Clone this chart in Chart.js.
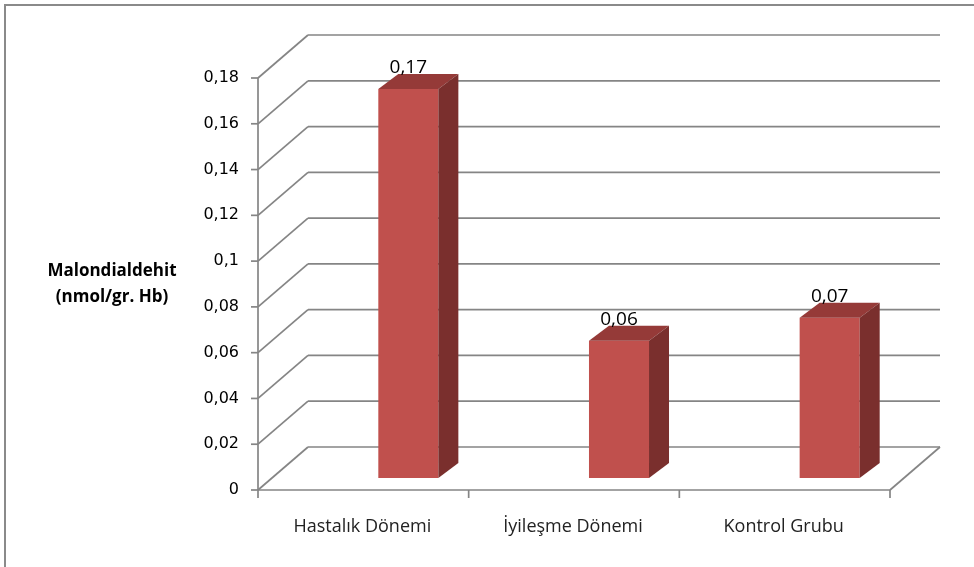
<!DOCTYPE html>
<html>
<head>
<meta charset="utf-8">
<script src="https://cdn.jsdelivr.net/npm/chart.js@4/dist/chart.umd.min.js"></script>
<style>
  html, body { margin: 0; padding: 0; background: #fff; }
  canvas { display: block; }
</style>
</head>
<body>
<canvas id="mdaChart" width="974" height="567"></canvas>
<script>
"use strict";

/**************************************************************
 * Data
 **************************************************************/
const categories = ["Hastalık Dönemi", "İyileşme Dönemi", "Kontrol Grubu"];
const mdaValues = [0.17, 0.06, 0.07];
const mdaLabels = ["0,17", "0,06", "0,07"];
const yTickValues = [0, 0.02, 0.04, 0.06, 0.08, 0.1, 0.12, 0.14, 0.16, 0.18];
const yTickLabels = ["0", "0,02", "0,04", "0,06", "0,08", "0,1", "0,12", "0,14", "0,16", "0,18"];
const yTitle = ["Malondialdehit", "(nmol/gr. Hb)"];

/**************************************************************
 * 3D look (Excel style column chart)
 **************************************************************/
const WALL_DX = 50, WALL_DY = -43;   // back wall depth
const BAR_SHIFT_X = 45, BAR_SHIFT_Y = -12; // bars sit inside the box
const BAR_DX = 20, BAR_DY = -15;     // bar depth
const GRID = "#858585";

function line(ctx, x1, y1, x2, y2) {
  ctx.beginPath();
  ctx.moveTo(x1, y1);
  ctx.lineTo(x2, y2);
  ctx.stroke();
}

function poly(ctx, pts, color) {
  ctx.beginPath();
  ctx.moveTo(pts[0][0], pts[0][1]);
  for (let i = 1; i < pts.length; i++) ctx.lineTo(pts[i][0], pts[i][1]);
  ctx.closePath();
  ctx.fillStyle = color;
  ctx.fill();
}

const box3d = {
  id: "box3d",

  beforeDraw(chart) {
    const ctx = chart.ctx;
    const xs = chart.scales.x;
    const ys = chart.scales.y;
    const left = chart.chartArea.left;
    const right = chart.chartArea.right;

    ctx.save();
    ctx.fillStyle = "#fff";
    ctx.fillRect(0, 0, chart.width, chart.height);

    // outer frame
    ctx.strokeStyle = "#8a8a8a";
    ctx.lineWidth = 2;
    ctx.beginPath();
    ctx.moveTo(5, chart.height);
    ctx.lineTo(5, 5);
    ctx.lineTo(chart.width, 5);
    ctx.stroke();

    // walls and gridlines
    ctx.strokeStyle = GRID;
    ctx.lineWidth = 1.7;
    yTickValues.forEach((v) => {
      const y = ys.getPixelForValue(v);
      line(ctx, left, y, left + WALL_DX, y + WALL_DY);
      line(ctx, left + WALL_DX, y + WALL_DY, right + WALL_DX, y + WALL_DY);
    });

    // floor
    const y0 = ys.getPixelForValue(0);
    line(ctx, left, y0, right, y0);
    line(ctx, right, y0, right + WALL_DX, y0 + WALL_DY);

    // y axis + ticks
    line(ctx, left, ys.getPixelForValue(0.18), left, y0);
    ctx.fillStyle = "#000";
    ctx.font = "16px 'DejaVu Sans'";
    ctx.textAlign = "right";
    ctx.textBaseline = "middle";
    yTickValues.forEach((v, i) => {
      const y = ys.getPixelForValue(v);
      line(ctx, left - 7, y, left, y);
      ctx.fillText(yTickLabels[i], left - 19, y);
    });

    // x ticks + labels
    const step = (right - left) / categories.length;
    for (let i = 0; i <= categories.length; i++) {
      const x = left + i * step;
      line(ctx, x, y0, x, y0 + 8);
    }
    ctx.fillStyle = "#222";
    ctx.font = "18px 'Open Sans'";
    ctx.textAlign = "center";
    categories.forEach((c, i) => {
      ctx.fillText(c, xs.getPixelForValue(i) - 1, 527);
    });

    // y title
    ctx.fillStyle = "#000";
    ctx.font = "bold 17px 'Open Sans'";
    ctx.fillText(yTitle[0], 112, 271);
    ctx.fillText(yTitle[1], 112, 297);
    ctx.restore();
  },

  beforeDatasetsDraw(chart) {
    chart.ctx.save();
    chart.ctx.translate(BAR_SHIFT_X, BAR_SHIFT_Y);
  },

  afterDatasetsDraw(chart) {
    const ctx = chart.ctx;
    const bars = chart.getDatasetMeta(0).data;
    bars.forEach((bar) => {
      const l = bar.x - bar.width / 2;
      const r = bar.x + bar.width / 2;
      const t = bar.y;
      const b = bar.base;
      // top face
      poly(ctx, [[l, t], [r, t], [r + BAR_DX, t + BAR_DY], [l + BAR_DX, t + BAR_DY]], "#953a38");
      // side face
      poly(ctx, [[r, t], [r + BAR_DX, t + BAR_DY], [r + BAR_DX, b + BAR_DY], [r, b]], "#7a2f2d");
    });
    ctx.restore();

    // value labels
    ctx.save();
    ctx.fillStyle = "#000";
    ctx.font = "19px 'Open Sans'";
    ctx.textAlign = "center";
    ctx.textBaseline = "middle";
    bars.forEach((bar, i) => {
      ctx.fillText(mdaLabels[i], bar.x + BAR_SHIFT_X, bar.y + BAR_SHIFT_Y - 21);
    });
    ctx.restore();
  },
};

/**************************************************************
 * Chart
 **************************************************************/
new Chart(document.getElementById("mdaChart"), {
  type: "bar",
  data: {
    labels: categories,
    datasets: [
      {
        data: mdaValues,
        backgroundColor: "#c0504d",
        borderWidth: 0,
        barPercentage: 0.285,
        categoryPercentage: 1,
        clip: false,
      },
    ],
  },
  options: {
    responsive: false,
    animation: false,
    layout: {
      padding: { left: 258, right: 84, top: 78, bottom: 77 },
    },
    scales: {
      x: { display: false },
      y: { display: false, min: 0, max: 0.18 },
    },
    plugins: {
      legend: { display: false },
      tooltip: { enabled: false },
    },
  },
  plugins: [box3d],
});
</script>
</body>
</html>
